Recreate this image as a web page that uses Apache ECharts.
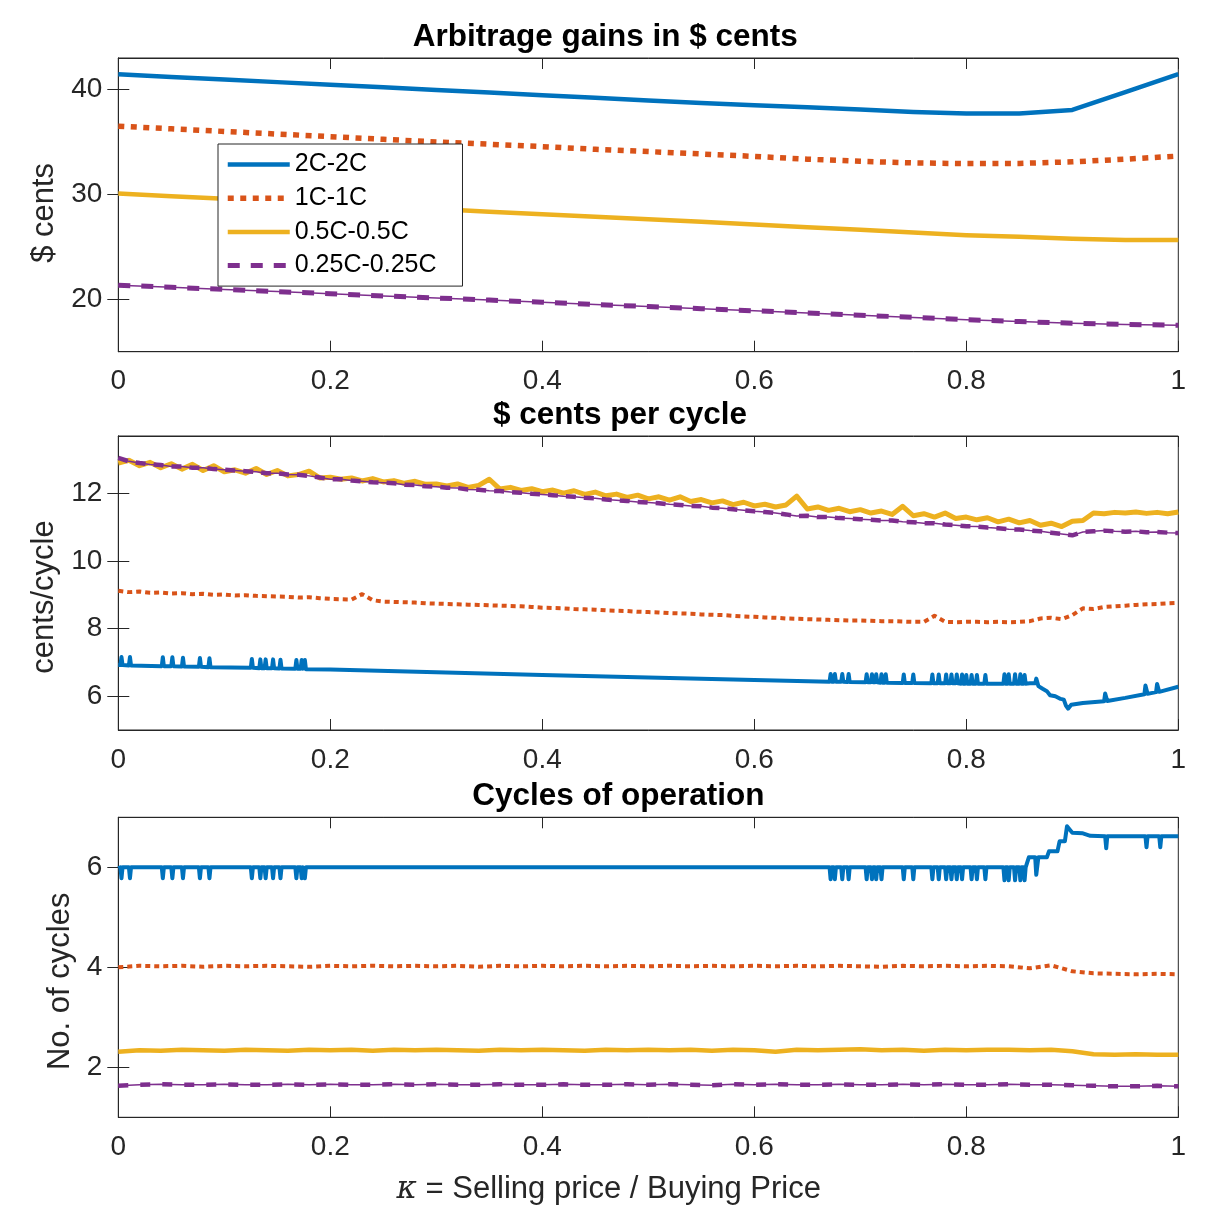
<!DOCTYPE html>
<html>
<head>
<meta charset="utf-8">
<script src="https://cdn.jsdelivr.net/npm/echarts@6/dist/echarts.min.js"></script>
<style>
html,body{margin:0;padding:0;background:#fff;}
#chart{width:1211px;height:1209px;}
</style>
</head>
<body>
<div id="chart"></div>
<script>
// ---------------- DATA ----------------
const seriesNames = ['2C-2C', '1C-1C', '0.5C-0.5C', '0.25C-0.25C'];
const titles = ['Arbitrage gains in $ cents', '$ cents per cycle', 'Cycles of operation'];
const yNames = ['$ cents', 'cents/cycle', 'No. of cycles'];
const xName = '{k|\u03BA} = Selling price / Buying Price';
const yTicksTop = [20, 30, 40];
const yTicksMid = [6, 8, 10, 12];
const yTicksBot = [2, 4, 6];

// Top panel (kappa every 0.05)
const topKappa = [0,0.05,0.1,0.15,0.2,0.25,0.3,0.35,0.4,0.45,0.5,0.55,0.6,0.65,0.7,0.75,0.8,0.85,0.9,0.95,1];
const blueTop   = [41.46,41.2,40.95,40.7,40.45,40.2,39.95,39.7,39.45,39.2,38.95,38.72,38.5,38.3,38.08,37.85,37.72,37.72,38.05,39.75,41.46];
const orangeTop = [36.5,36.25,36.0,35.75,35.5,35.25,35.0,34.78,34.55,34.3,34.08,33.85,33.62,33.35,33.15,33.0,32.93,32.95,33.1,33.35,33.65];
const yellowTop = [30.08,29.83,29.58,29.34,29.09,28.85,28.6,28.35,28.1,27.86,27.62,27.38,27.12,26.87,26.62,26.36,26.1,25.95,25.77,25.64,25.64];
const purpleTop = [21.34,21.14,20.94,20.73,20.53,20.32,20.12,19.92,19.71,19.5,19.3,19.1,18.9,18.7,18.48,18.27,18.05,17.87,17.72,17.6,17.52];

// Middle panel (kappa every 0.01)
const yellowMid = [12.9,12.98,12.82,12.92,12.76,12.88,12.72,12.86,12.68,12.82,
12.64,12.7,12.6,12.74,12.56,12.68,12.52,12.56,12.66,12.46,
12.48,12.42,12.46,12.37,12.44,12.34,12.38,12.3,12.36,12.27,
12.28,12.22,12.28,12.18,12.24,12.42,12.13,12.18,12.09,12.14,
12.05,12.1,12.01,12.08,11.97,12.04,11.93,11.98,11.88,11.95,
11.84,11.9,11.8,11.9,11.76,11.82,11.72,11.78,11.67,11.74,
11.63,11.68,11.6,11.66,11.92,11.54,11.6,11.5,11.56,11.46,
11.52,11.42,11.48,11.38,11.62,11.34,11.4,11.3,11.42,11.26,
11.3,11.22,11.28,11.16,11.24,11.13,11.2,11.06,11.12,11.02,
11.18,11.2,11.42,11.4,11.44,11.42,11.45,11.41,11.44,11.4,
11.45];
const purpleMid = [13.05,12.95,12.9,12.86,12.84,12.8,12.8,12.76,12.76,12.72,
12.7,12.68,12.66,12.64,12.6,12.6,12.56,12.55,12.52,12.47,
12.42,12.42,12.38,12.36,12.33,12.32,12.3,12.26,12.25,12.21,
12.2,12.17,12.16,12.12,12.11,12.08,12.07,12.04,12.02,11.99,
11.97,11.95,11.92,11.9,11.87,11.86,11.82,11.8,11.78,11.75,
11.73,11.71,11.68,11.66,11.63,11.62,11.58,11.56,11.53,11.5,
11.47,11.45,11.42,11.38,11.33,11.34,11.3,11.3,11.27,11.26,
11.24,11.22,11.2,11.2,11.16,11.15,11.12,11.12,11.08,11.06,
11.03,11.02,10.99,10.97,10.94,10.93,10.9,10.88,10.84,10.8,
10.76,10.86,10.88,10.9,10.88,10.87,10.88,10.85,10.86,10.84,
10.83];
const orangeMid = [9.12,9.08,9.1,9.06,9.07,9.04,9.05,9.02,9.03,9.0,
9.01,8.98,8.99,8.97,8.96,8.95,8.94,8.92,8.93,8.9,
8.88,8.87,8.86,9.02,8.84,8.8,8.79,8.78,8.77,8.75,
8.74,8.73,8.72,8.71,8.7,8.69,8.68,8.67,8.66,8.64,
8.62,8.61,8.6,8.58,8.57,8.56,8.54,8.53,8.52,8.5,
8.49,8.48,8.46,8.45,8.44,8.42,8.41,8.4,8.38,8.36,
8.35,8.33,8.32,8.3,8.29,8.28,8.27,8.26,8.25,8.24,
8.24,8.23,8.22,8.22,8.21,8.2,8.2,8.38,8.2,8.19,
8.2,8.2,8.19,8.2,8.19,8.2,8.22,8.3,8.32,8.28,
8.4,8.6,8.58,8.64,8.66,8.68,8.7,8.72,8.73,8.75,
8.76];
const blueMid = [
[0,6.92],[0.002,6.92],[0.003,7.16],[0.004,6.92],
[0.010,6.91],[0.011,7.16],[0.012,6.91],
[0.041,6.89],[0.042,7.15],[0.043,6.89],
[0.050,6.89],[0.051,7.15],[0.052,6.89],
[0.060,6.88],[0.061,7.14],[0.062,6.88],
[0.076,6.87],[0.077,7.13],[0.078,6.87],
[0.085,6.86],[0.086,7.12],[0.087,6.86],
[0.125,6.84],[0.126,7.1],[0.127,6.84],
[0.133,6.83],[0.134,7.09],[0.135,6.83],
[0.138,6.83],[0.139,7.09],[0.140,6.83],
[0.145,6.83],[0.146,7.09],[0.147,6.83],
[0.152,6.82],[0.153,7.08],[0.154,6.82],
[0.167,6.81],[0.168,7.07],[0.169,6.81],
[0.172,6.81],[0.173,7.07],[0.174,6.81],
[0.175,6.81],[0.176,7.07],[0.177,6.8],
[0.2,6.79],[0.3,6.71],[0.4,6.63],[0.5,6.55],[0.6,6.48],
[0.671,6.43],[0.672,6.66],[0.673,6.43],
[0.675,6.43],[0.676,6.66],[0.677,6.43],
[0.682,6.43],[0.683,6.66],[0.684,6.43],
[0.688,6.42],[0.689,6.66],[0.690,6.42],
[0.705,6.41],[0.706,6.65],[0.707,6.41],
[0.710,6.41],[0.711,6.65],[0.712,6.41],
[0.714,6.41],[0.715,6.65],[0.716,6.41],
[0.719,6.4],[0.720,6.65],[0.721,6.4],
[0.723,6.4],[0.724,6.65],[0.725,6.4],
[0.740,6.39],[0.741,6.64],[0.742,6.39],
[0.749,6.39],[0.750,6.64],[0.751,6.39],
[0.767,6.38],[0.768,6.64],[0.769,6.38],
[0.773,6.38],[0.774,6.64],[0.775,6.38],
[0.780,6.38],[0.781,6.64],[0.782,6.38],
[0.785,6.38],[0.786,6.64],[0.787,6.38],
[0.790,6.38],[0.791,6.64],[0.792,6.38],
[0.795,6.37],[0.796,6.64],[0.797,6.37],
[0.799,6.37],[0.800,6.63],[0.801,6.37],
[0.804,6.37],[0.805,6.63],[0.806,6.37],
[0.809,6.37],[0.810,6.63],[0.811,6.37],
[0.817,6.37],[0.818,6.63],[0.819,6.37],
[0.835,6.37],[0.836,6.65],[0.837,6.37],
[0.839,6.37],[0.840,6.65],[0.841,6.37],
[0.845,6.37],[0.846,6.65],[0.847,6.37],
[0.850,6.37],[0.851,6.65],[0.852,6.37],
[0.854,6.37],[0.855,6.63],[0.856,6.37],
[0.860,6.38],[0.865,6.38],[0.866,6.52],[0.867,6.52],[0.868,6.3],
[0.872,6.22],[0.876,6.15],[0.879,6.03],[0.884,6.0],[0.889,5.92],[0.892,5.9],
[0.894,5.72],[0.896,5.63],[0.899,5.75],
[0.910,5.8],[0.930,5.85],[0.931,6.08],[0.933,5.86],
[0.950,5.95],[0.968,6.06],[0.969,6.32],[0.971,6.07],
[0.979,6.12],[0.980,6.36],[0.982,6.13],[1.0,6.28]
];

// Bottom panel (kappa every 0.02)
const orangeBot = [4.0,4.03,4.02,4.03,4.01,4.03,4.02,4.03,4.02,4.01,
4.03,4.02,4.03,4.02,4.03,4.02,4.03,4.01,4.03,4.02,
4.03,4.02,4.03,4.02,4.03,4.02,4.03,4.02,4.03,4.02,
4.03,4.02,4.03,4.02,4.03,4.02,4.01,4.03,4.02,4.03,
4.02,4.03,4.02,3.98,4.04,3.92,3.88,3.87,3.86,3.87,
3.86];
const yellowBot = [2.31,2.34,2.33,2.35,2.34,2.33,2.35,2.34,2.33,2.35,
2.34,2.35,2.33,2.35,2.34,2.35,2.34,2.33,2.35,2.34,
2.35,2.34,2.33,2.35,2.34,2.35,2.34,2.35,2.33,2.35,
2.34,2.31,2.35,2.34,2.35,2.36,2.34,2.35,2.33,2.35,
2.34,2.35,2.35,2.34,2.35,2.32,2.26,2.25,2.26,2.25,
2.25];
const purpleBot = [1.63,1.65,1.66,1.65,1.65,1.66,1.65,1.65,1.66,1.65,
1.66,1.65,1.65,1.66,1.65,1.66,1.65,1.65,1.66,1.65,
1.65,1.66,1.65,1.65,1.66,1.65,1.66,1.65,1.64,1.66,
1.65,1.66,1.65,1.65,1.66,1.65,1.65,1.66,1.65,1.66,
1.65,1.65,1.66,1.65,1.65,1.64,1.63,1.62,1.62,1.63,
1.62];
const blueBot = [
[0,5.98],[0.002,6.0],[0.003,5.78],[0.004,6.0],
[0.010,6.0],[0.011,5.78],[0.012,6.0],
[0.041,6.0],[0.042,5.78],[0.043,6.0],
[0.050,6.0],[0.051,5.78],[0.052,6.0],
[0.060,6.0],[0.061,5.78],[0.062,6.0],
[0.076,6.0],[0.077,5.78],[0.078,6.0],
[0.085,6.0],[0.086,5.78],[0.087,6.0],
[0.125,6.0],[0.126,5.78],[0.127,6.0],
[0.133,6.0],[0.134,5.78],[0.135,6.0],
[0.138,6.0],[0.139,5.78],[0.140,6.0],
[0.145,6.0],[0.146,5.78],[0.147,6.0],
[0.152,6.0],[0.153,5.78],[0.154,6.0],
[0.167,6.0],[0.168,5.78],[0.169,6.0],
[0.172,6.0],[0.173,5.78],[0.174,6.0],
[0.175,6.0],[0.176,5.78],[0.177,6.0],
[0.3,6.0],[0.5,6.0],[0.6,6.0],
[0.671,6.0],[0.672,5.76],[0.673,6.0],
[0.675,6.0],[0.676,5.76],[0.677,6.0],
[0.682,6.0],[0.683,5.76],[0.684,6.0],
[0.688,6.0],[0.689,5.76],[0.690,6.0],
[0.705,6.0],[0.706,5.76],[0.707,6.0],
[0.710,6.0],[0.711,5.76],[0.712,6.0],
[0.714,6.0],[0.715,5.76],[0.716,6.0],
[0.719,6.0],[0.720,5.76],[0.721,6.0],
[0.740,6.0],[0.741,5.76],[0.742,6.0],
[0.749,6.0],[0.750,5.76],[0.751,6.0],
[0.767,6.0],[0.768,5.76],[0.769,6.0],
[0.773,6.0],[0.774,5.76],[0.775,6.0],
[0.780,6.0],[0.781,5.76],[0.782,6.0],
[0.785,6.0],[0.786,5.76],[0.787,6.0],
[0.790,6.0],[0.791,5.76],[0.792,6.0],
[0.795,6.0],[0.796,5.76],[0.797,6.0],
[0.804,6.0],[0.805,5.76],[0.806,6.0],
[0.809,6.0],[0.810,5.76],[0.811,6.0],
[0.817,6.0],[0.818,5.76],[0.819,6.0],
[0.835,6.0],[0.836,5.74],[0.837,6.0],
[0.839,6.0],[0.840,5.74],[0.841,6.0],
[0.845,6.0],[0.846,5.74],[0.847,6.0],
[0.850,6.0],[0.851,5.74],[0.852,6.0],
[0.854,6.0],[0.855,5.74],[0.856,6.0],
[0.857,6.0],[0.859,6.2],[0.865,6.2],[0.866,5.85],[0.868,6.2],[0.876,6.2],
[0.878,6.32],[0.886,6.32],[0.888,6.52],[0.893,6.52],[0.895,6.82],[0.900,6.69],
[0.910,6.68],[0.917,6.63],[0.931,6.62],[0.932,6.38],[0.933,6.62],
[0.969,6.62],[0.970,6.4],[0.971,6.62],[0.982,6.62],[0.983,6.4],[0.984,6.62],[1.0,6.62]
];

// ---------------- BUILD ----------------
const C = {blue:'#0072BD', orange:'#D95319', yellow:'#EDB120', purple:'#7E2F8E'};
const AX = '#262626';
const FONT = 'Liberation Sans, Arial, Helvetica, sans-serif';
const midKappa = yellowMid.map((_, i) => +(i / 100).toFixed(2));
const botKappa = yellowBot.map((_, i) => +(i / 50).toFixed(2));
const zip = (xs, ys) => ys.map((y, i) => [xs[i], y]);

const gridDefs = [
  {top: 58, height: 293.7},
  {top: 436, height: 294},
  {top: 817.3, height: 300}
];
const yRanges = [[15, 43], [5, 13.7], [1, 7]];
const yTicks = [yTicksTop, yTicksMid, yTicksBot];
const yNameGaps = [52, 54, 36];
const yNamePads = [[0, 16, 0, 0], [0, 28, 0, 0], [0, 28, 0, 0]];

const grid = gridDefs.map(g => ({left: 118.3, right: 32.7, top: g.top, height: g.height,
  show: true, borderColor: AX, borderWidth: 1, backgroundColor: 'transparent',
  containLabel: false, outerBoundsMode: 'none'}));

const xAxis = [], yAxis = [];
gridDefs.forEach((g, i) => {
  const common = {gridIndex: i, type: 'value', min: 0, max: 1, interval: 0.2,
    splitLine: {show: false},
    axisLine: {show: true, lineStyle: {color: AX, width: 1}},
    axisTick: {show: true, inside: true, length: 11, lineStyle: {color: AX, width: 1}}};
  xAxis.push(Object.assign({}, common, {position: 'bottom',
    axisLabel: {show: true, margin: 16, fontSize: 28, color: AX, fontFamily: FONT},
    name: i === 2 ? xName : '', nameLocation: 'middle', nameGap: 57,
    nameTextStyle: {fontSize: 31, color: AX, fontFamily: FONT, padding: [0, 79, 0, 0],
      rich: {k: {fontSize: 31, fontStyle: 'italic', fontFamily: 'DejaVu Serif', color: AX}}}}));
  xAxis.push(Object.assign({}, common, {position: 'top', axisLabel: {show: false}}));
  const yc = {gridIndex: i, type: 'value', min: yRanges[i][0], max: yRanges[i][1],
    splitLine: {show: false},
    axisLine: {show: true, lineStyle: {color: AX, width: 1}},
    axisTick: {show: true, inside: true, length: 11, customValues: yTicks[i], lineStyle: {color: AX, width: 1}}};
  yAxis.push(Object.assign({}, yc, {position: 'left',
    axisLabel: {show: true, margin: 16, fontSize: 28, color: AX, fontFamily: FONT, customValues: yTicks[i]},
    name: yNames[i], nameLocation: 'middle', nameGap: yNameGaps[i],
    nameTextStyle: {fontSize: 31, color: AX, fontFamily: FONT, padding: yNamePads[i]}}));
  yAxis.push(Object.assign({}, yc, {position: 'right', axisLabel: {show: false}}));
});

function line(name, g, data, color, width, type, z) {
  return {
    name: name, type: 'line', xAxisIndex: 2 * g, yAxisIndex: 2 * g, data: data,
    symbol: 'none', showSymbol: false, smooth: false, animation: false, z: z || 2,
    lineStyle: {color: color, width: width, type: type || 'solid', join: 'round', cap: 'butt'},
    itemStyle: {color: color},
    emphasis: {disabled: true}, silent: true
  };
}

const series = [
  // top
  line(seriesNames[0], 0, zip(topKappa, blueTop), C.blue, 4.5, 'solid'),
  line(seriesNames[1], 0, zip(topKappa, orangeTop), C.orange, 5.5, [6, 6.5]),
  line(seriesNames[2], 0, zip(topKappa, yellowTop), C.yellow, 4.5, 'solid'),
  line(seriesNames[3], 0, zip(topKappa, purpleTop), C.purple, 5, [12, 11]),
  line(undefined, 0, zip(topKappa, purpleTop), C.purple, 1.5, 'solid'),
  // middle
  line(seriesNames[0], 1, blueMid, C.blue, 4, 'solid'),
  line(seriesNames[1], 1, zip(midKappa, orangeMid), C.orange, 4, [5, 4]),
  line(seriesNames[2], 1, zip(midKappa, yellowMid), C.yellow, 5, 'solid'),
  line(seriesNames[3], 1, zip(midKappa, purpleMid), C.purple, 4.5, [10, 8]),
  line(undefined, 1, zip(midKappa, purpleMid), C.purple, 1.5, 'solid'),
  // bottom
  line(seriesNames[0], 2, blueBot, C.blue, 4, 'solid'),
  line(seriesNames[1], 2, zip(botKappa, orangeBot), C.orange, 4, [5, 4]),
  line(seriesNames[2], 2, zip(botKappa, yellowBot), C.yellow, 4.5, 'solid'),
  line(seriesNames[3], 2, zip(botKappa, purpleBot), C.purple, 4.5, [10, 12]),
  line(undefined, 2, zip(botKappa, purpleBot), C.purple, 1.5, 'solid')
];

const titleDefs = [{x: 605.3, y: 21}, {x: 620, y: 399}, {x: 618.3, y: 780.6}];
const title = titles.map((t, i) => ({
  text: t, left: titleDefs[i].x, top: titleDefs[i].y, textAlign: 'center', padding: 0,
  textStyle: {fontSize: 31.5, fontWeight: 'bold', color: '#000', fontFamily: FONT}
}));

const chart = echarts.init(document.getElementById('chart'), null, {renderer: 'canvas'});
chart.setOption({
  animation: false,
  backgroundColor: '#fff',
  title: title,
  legend: {
    data: seriesNames, orient: 'vertical', left: 218, top: 144,
    padding: [8, 26, 8, 7], itemGap: 8.7, itemWidth: 62, itemHeight: 14,
    backgroundColor: '#fff', borderColor: AX, borderWidth: 1, borderRadius: 0,
    itemStyle: {opacity: 0, borderWidth: 0},
    lineStyle: {width: 'inherit', type: 'inherit'},
    textStyle: {fontSize: 25, color: '#000', fontFamily: FONT},
    selectedMode: false, z: 10
  },
  grid: grid,
  xAxis: xAxis,
  yAxis: yAxis,
  series: series
});
</script>
</body>
</html>
